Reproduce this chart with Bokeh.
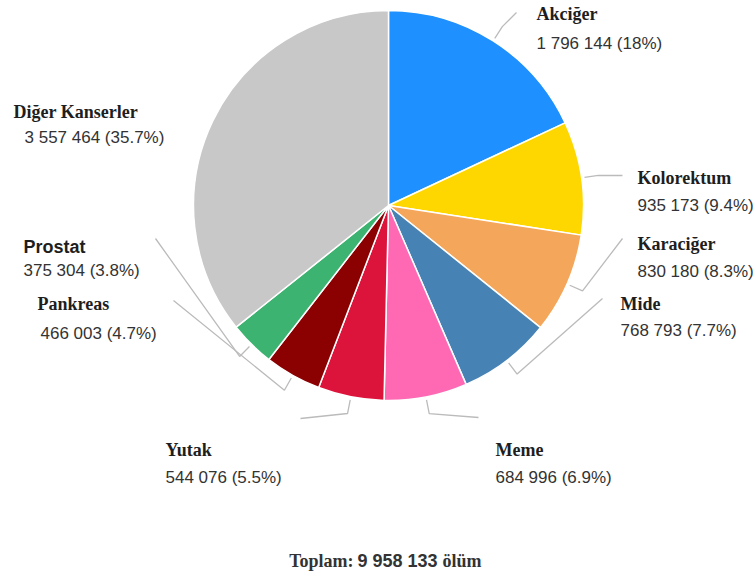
import math
from bokeh.plotting import figure
from bokeh.models import ColumnDataSource, Range1d
from bokeh.core.properties import value
from bokeh.embed import file_html
from bokeh.resources import INLINE

# ---- data ----
categories = ["Akciğer", "Kolorektum", "Karaciğer", "Mide", "Meme", "Yutak",
              "Pankreas", "Prostat", "Diğer Kanserler"]
deaths = [1796144, 935173, 830180, 768793, 684996, 544076, 466003, 375304, 3557464]
colors = ["#1E90FF", "#FFD700", "#F4A65A", "#4682B4", "#FF69B4", "#DC143C",
          "#8B0000", "#3CB371", "#C8C8C8"]
total_label = "Toplam:"
total_unit = "ölüm"

# ---- layout (screen pixels, y measured from top) ----
W, H = 756, 578
CX, CY, R = 388, 205, 195
name_pos = [(536, 13), (637, 177), (637, 243), (620, 303), (495, 449), (165, 449),
            (37, 303), (23, 246), (13, 111)]
val_pos = [(536, 43), (637, 205), (637, 271), (620, 330), (495, 477), (165, 477),
           (40, 333), (23, 270), (24, 137)]
leader_end = [(516, 12), (622, 175), (622, 238), (602, 298), (478, 417), (300, 418),
              (173, 300), (155, 238), None]
name_fonts = ["Liberation Serif"] * 7 + ["Liberation Sans"] + ["Liberation Serif"]


def Y(s):
    return H - s


def fmt_int(n):
    return f"{n:,}".replace(",", " ")


def fmt_pct(f):
    s = f"{f * 100:.1f}"
    if s.endswith(".0"):
        s = s[:-2]
    return s + "%"


total = sum(deaths)
fracs = [d / total for d in deaths]
starts, ends, mids = [], [], []
c = 0.0
for f in fracs:
    starts.append(c)
    mids.append(c + f / 2)
    c += f
    ends.append(c)

wedge_src = ColumnDataSource(dict(
    x=[CX] * len(deaths), y=[Y(CY)] * len(deaths),
    start=[math.pi / 2 - 2 * math.pi * e for e in ends],
    end=[math.pi / 2 - 2 * math.pi * s for s in starts],
    color=colors,
))

p = figure(width=W, height=H, x_range=Range1d(0, W), y_range=Range1d(0, H),
           output_backend="svg", toolbar_location=None, min_border=0,
           background_fill_color="white", border_fill_color="white")
p.axis.visible = False
p.grid.visible = False
p.outline_line_color = None

p.wedge(x="x", y="y", radius=R, radius_units="screen", start_angle="start",
        end_angle="end", direction="anticlock", fill_color="color",
        line_color="white", line_width=1.5, source=wedge_src)

# leader lines
xs, ys = [], []
for m, end in zip(mids, leader_end):
    if end is None:
        continue
    a = 2 * math.pi * m
    dx, dy = math.sin(a), -math.cos(a)
    p0 = (CX + (R + 3) * dx, CY + (R + 3) * dy)
    p1 = (CX + (R + 17) * dx, CY + (R + 17) * dy)
    xs.append([p0[0], p1[0], end[0]])
    ys.append([Y(p0[1]), Y(p1[1]), Y(end[1])])
p.multi_line(xs=xs, ys=ys, line_color="#BBBBBB", line_width=1.3)

# labels
name_src = ColumnDataSource(dict(
    x=[q[0] for q in name_pos], y=[Y(q[1]) for q in name_pos],
    text=categories, font=name_fonts))
p.text(x="x", y="y", text="text", text_font="font", text_font_style="bold",
       text_font_size="18px", text_color="#1E1E1E", text_baseline="middle",
       text_align="left", source=name_src)

val_src = ColumnDataSource(dict(
    x=[q[0] for q in val_pos], y=[Y(q[1]) for q in val_pos],
    text=[f"{fmt_int(d)} ({fmt_pct(f)})" for d, f in zip(deaths, fracs)]))
p.text(x="x", y="y", text="text", text_font=value("Liberation Sans"),
       text_font_size="17px", text_color="#333333", text_baseline="middle",
       text_align="left", source=val_src)

# total
p.text(x=[353], y=[Y(560)], text=[total_label], text_font=value("Liberation Serif"),
       text_font_style="bold", text_font_size="18px", text_color="#333333",
       text_baseline="middle", text_align="right")
p.text(x=[357], y=[Y(560)], text=[fmt_int(total)], text_font=value("Liberation Sans"),
       text_font_style="bold", text_font_size="18px", text_color="#333333",
       text_baseline="middle", text_align="left")
p.text(x=[442], y=[Y(560)], text=[total_unit], text_font=value("Liberation Serif"),
       text_font_style="bold", text_font_size="18px", text_color="#333333",
       text_baseline="middle", text_align="left")

open("out.html", "w").write(file_html(p, INLINE))
